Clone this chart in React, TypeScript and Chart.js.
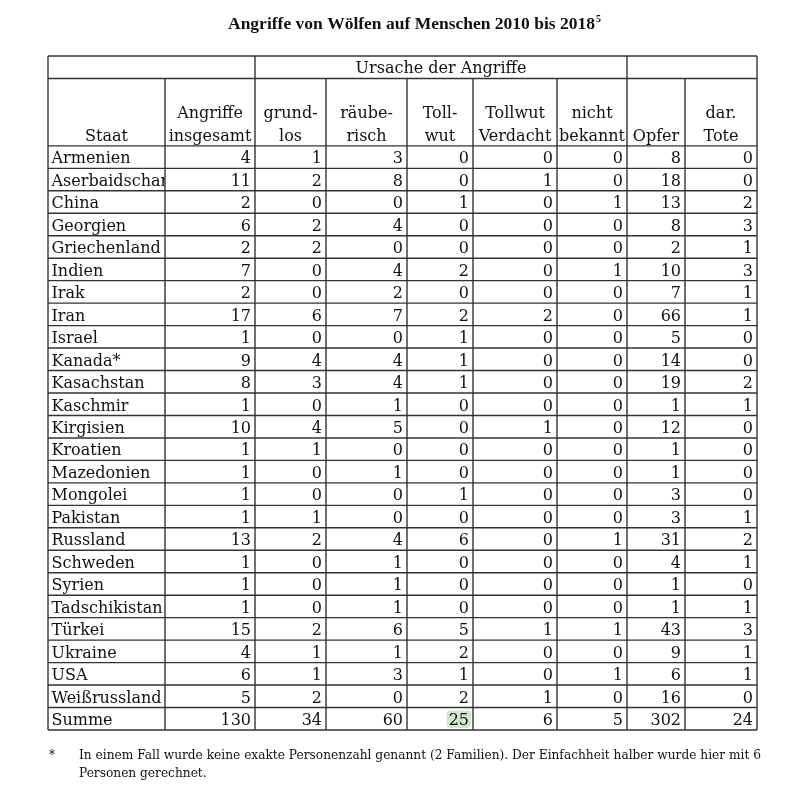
import React, { useEffect, useRef } from "react";
import { Chart, registerables } from "chart.js";

Chart.register(...registerables);

// ---------- data ----------
const title = "Angriffe von Wölfen auf Menschen 2010 bis 2018";
const titleNote = "5";
const groupHeader = "Ursache der Angriffe";
const columnHeaders: string[][] = [
  ["", "Staat"],
  ["Angriffe", "insgesamt"],
  ["grund-", "los"],
  ["räube-", "risch"],
  ["Toll-", "wut"],
  ["Tollwut", "Verdacht"],
  ["nicht", "bekannt"],
  ["", "Opfer"],
  ["dar.", "Tote"],
];
const staaten = [
  "Armenien", "Aserbaidschan", "China", "Georgien", "Griechenland", "Indien", "Irak", "Iran",
  "Israel", "Kanada*", "Kasachstan", "Kaschmir", "Kirgisien", "Kroatien", "Mazedonien",
  "Mongolei", "Pakistan", "Russland", "Schweden", "Syrien", "Tadschikistan", "Türkei",
  "Ukraine", "USA", "Weißrussland",
];
const angriffe = [4, 11, 2, 6, 2, 7, 2, 17, 1, 9, 8, 1, 10, 1, 1, 1, 1, 13, 1, 1, 1, 15, 4, 6, 5];
const grundlos = [1, 2, 0, 2, 2, 0, 0, 6, 0, 4, 3, 0, 4, 1, 0, 0, 1, 2, 0, 0, 0, 2, 1, 1, 2];
const raeuberisch = [3, 8, 0, 4, 0, 4, 2, 7, 0, 4, 4, 1, 5, 0, 1, 0, 0, 4, 1, 1, 1, 6, 1, 3, 0];
const tollwut = [0, 0, 1, 0, 0, 2, 0, 2, 1, 1, 1, 0, 0, 0, 0, 1, 0, 6, 0, 0, 0, 5, 2, 1, 2];
const tollwutVerdacht = [0, 1, 0, 0, 0, 0, 0, 2, 0, 0, 0, 0, 1, 0, 0, 0, 0, 0, 0, 0, 0, 1, 0, 0, 1];
const nichtBekannt = [0, 0, 1, 0, 0, 1, 0, 0, 0, 0, 0, 0, 0, 0, 0, 0, 0, 1, 0, 0, 0, 1, 0, 1, 0];
const opfer = [8, 18, 13, 8, 2, 10, 7, 66, 5, 14, 19, 1, 12, 1, 1, 3, 3, 31, 4, 1, 1, 43, 9, 6, 16];
const tote = [0, 0, 2, 3, 1, 3, 1, 1, 0, 0, 2, 1, 0, 0, 0, 0, 1, 2, 1, 0, 1, 3, 1, 1, 0];
const summeLabel = "Summe";
const summe = [130, 34, 60, 25, 6, 5, 302, 24];
const footnoteMark = "*";
const footnoteLines = [
  "In einem Fall wurde keine exakte Personenzahl genannt (2 Familien). Der Einfachheit halber wurde hier mit 6",
  "Personen gerechnet.",
];

// ---------- layout / style ----------
const colWidths = [117, 90, 71, 81, 66, 84, 70, 58, 72];
const FONT = '"DejaVu Serif", serif';
const BODY = `16px ${FONT}`;
const LINE = "#333333";
const TEXT = "#111111";
const HIGHLIGHT = "#d3e6cf";

export default function App() {
  const ref = useRef<HTMLCanvasElement>(null);

  useEffect(() => {
    const canvas = ref.current!;
    const edges: number[] = [0];
    colWidths.forEach((w) => edges.push(edges[edges.length - 1] + w));
    const total = edges[edges.length - 1];

    const rows = staaten.map((s, i) => ({
      label: s,
      values: [angriffe[i], grundlos[i], raeuberisch[i], tollwut[i], tollwutVerdacht[i], nichtBekannt[i], opfer[i], tote[i]],
    }));
    rows.push({ label: summeLabel, values: summe });
    const headerUnits = 4; // 1 group-header row + 3 units column-header row
    const totalRows = headerUnits + rows.length;

    const tablePlugin = {
      id: "tablePlugin",
      afterDraw(chart: any) {
        const { ctx, scales } = chart;
        const xs = scales.x;
        const ys = scales.y;
        const px = (v: number) => xs.getPixelForValue(v);
        const py = (v: number) => ys.getPixelForValue(v);
        ctx.save();

        // Title
        ctx.fillStyle = TEXT;
        const TF = 'bold 17.5px "Liberation Serif", serif';
        const TN = 'bold 10px "Liberation Serif", serif';
        ctx.font = TF;
        const w1 = ctx.measureText(title).width;
        ctx.font = TN;
        const w2 = ctx.measureText(titleNote).width;
        const tcx = (px(0) + px(total)) / 2 + 12;
        const tx = tcx - (w1 + w2 + 1) / 2;
        ctx.textAlign = "left";
        ctx.textBaseline = "alphabetic";
        ctx.font = TF;
        ctx.fillText(title, tx, py(0) - 27);
        ctx.font = TN;
        ctx.fillText(titleNote, tx + w1 + 1, py(0) - 34);

        // highlight behind Summe Tollwut value
        {
          const r = rows.length - 1;
          const c = 4;
          ctx.font = BODY;
          const tw = ctx.measureText(String(rows[r].values[c - 1])).width;
          const right = px(edges[c + 1]) - 2;
          const top = py(headerUnits + r) + 3;
          const bottom = py(headerUnits + r + 1) - 2;
          const left = right - tw - 4;
          ctx.fillStyle = HIGHLIGHT;
          ctx.beginPath();
          (ctx as any).roundRect
            ? (ctx as any).roundRect(left, top, right - left, bottom - top, 3)
            : ctx.rect(left, top, right - left, bottom - top);
          ctx.fill();
        }

        // Text
        ctx.fillStyle = TEXT;
        ctx.font = BODY;
        ctx.textBaseline = "alphabetic";

        // group header
        ctx.textAlign = "center";
        ctx.fillText(groupHeader, (px(edges[2]) + px(edges[7])) / 2, py(0.5) + 6);

        // column headers
        columnHeaders.forEach((lines, j) => {
          const cx = (px(edges[j]) + px(edges[j + 1])) / 2;
          const bottom = py(headerUnits);
          if (lines[0]) ctx.fillText(lines[0], cx, bottom - 28);
          if (lines[1]) ctx.fillText(lines[1], cx, bottom - 5);
        });

        // data rows
        rows.forEach((row, i) => {
          const top = py(headerUnits + i);
          const bot = py(headerUnits + i + 1);
          const base = (top + bot) / 2 + 6.3;
          ctx.save();
          ctx.beginPath();
          ctx.rect(px(edges[0]), top, px(edges[1]) - px(edges[0]), bot - top);
          ctx.clip();
          ctx.textAlign = "left";
          ctx.fillText(row.label, px(edges[0]) + 3.5, base);
          ctx.restore();
          ctx.textAlign = "right";
          row.values.forEach((v, k) => {
            ctx.fillText(String(v), px(edges[k + 2]) - 4, base);
          });
        });

        // Grid lines
        ctx.strokeStyle = LINE;
        ctx.lineWidth = 1.4;
        const hline = (v: number, a: number, b: number) => {
          ctx.beginPath();
          ctx.moveTo(px(a), py(v));
          ctx.lineTo(px(b), py(v));
          ctx.stroke();
        };
        const vline = (e: number, a: number, b: number) => {
          ctx.beginPath();
          ctx.moveTo(px(e), py(a));
          ctx.lineTo(px(e), py(b));
          ctx.stroke();
        };
        hline(0, 0, total);
        hline(1, 0, total);
        for (let r = headerUnits; r <= totalRows; r++) hline(r, 0, total);
        const fullEdges = [0, 2, 7, 9];
        edges.forEach((e, j) => {
          vline(e, fullEdges.includes(j) ? 0 : 1, totalRows);
        });

        // footnote
        ctx.fillStyle = TEXT;
        ctx.font = `12.2px ${FONT}`;
        ctx.textAlign = "left";
        const fb = py(totalRows);
        ctx.fillText(footnoteMark, px(0) + 1, fb + 29);
        footnoteLines.forEach((l, i) => ctx.fillText(l, px(0) + 31, fb + 29 + i * 18));

        ctx.restore();
      },
    };

    const chart = new Chart(canvas, {
      type: "scatter",
      data: { datasets: [{ data: [], pointRadius: 0 }] },
      options: {
        animation: false,
        responsive: false,
        devicePixelRatio: 1,
        layout: { padding: { left: 48, right: 40, top: 56, bottom: 57 } },
        plugins: { legend: { display: false }, tooltip: { enabled: false }, title: { display: false } },
        scales: {
          x: { type: "linear", min: 0, max: total, display: false },
          y: { type: "linear", min: 0, max: totalRows, reverse: true, display: false },
        },
      },
      plugins: [tablePlugin],
    } as any);
    return () => chart.destroy();
  }, []);

  return (
    <div style={{ position: "fixed", left: 0, top: 0, width: 797, height: 787, background: "#fff" }}>
      <canvas ref={ref} width={797} height={787} style={{ display: "block" }} />
    </div>
  );
}
